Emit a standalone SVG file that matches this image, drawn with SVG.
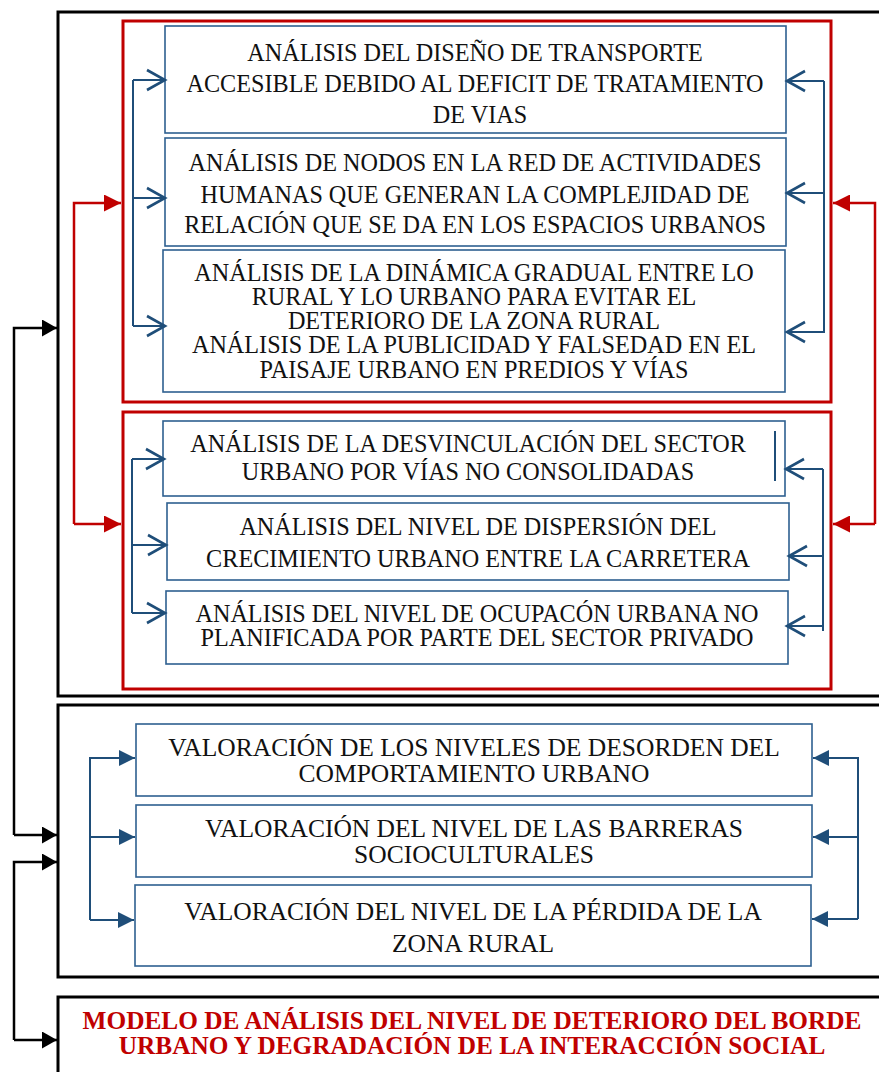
<svg xmlns="http://www.w3.org/2000/svg" width="879" height="1072" viewBox="0 0 879 1072">
<style>
.frame{fill:none;stroke:#000;stroke-width:3}
.red{fill:none;stroke:#c00000;stroke-width:3}
.box{fill:#fff;stroke:#2e6090;stroke-width:1.6}
.t{font-family:"Liberation Serif","Times New Roman",serif;font-size:24.2px;fill:#111;text-anchor:middle}
.tv{font-family:"Liberation Serif","Times New Roman",serif;font-size:25.5px;fill:#111;text-anchor:middle}
.rt{font-family:"Liberation Serif","Times New Roman",serif;font-size:25.3px;font-weight:bold;fill:#c00000;text-anchor:middle}
.cb{fill:none;stroke:#1f4e79;stroke-width:2}
.cr{fill:none;stroke:#c00000;stroke-width:2.5}
.ck{fill:none;stroke:#000;stroke-width:2.5}
</style>
<defs>
<marker id="chev" markerUnits="userSpaceOnUse" markerWidth="24" markerHeight="26" viewBox="0 0 24 26" refX="21" refY="13" orient="auto">
<path d="M3,3 L21,13 L3,23" fill="none" stroke="#1f4e79" stroke-width="2.6"/>
</marker>
<marker id="tb" markerUnits="userSpaceOnUse" markerWidth="16" markerHeight="16" viewBox="0 0 16 16" refX="16" refY="8" orient="auto">
<path d="M0,0 L16,8 L0,16 z" fill="#1f4e79"/>
</marker>
<marker id="tr" markerUnits="userSpaceOnUse" markerWidth="17" markerHeight="17" viewBox="0 0 17 17" refX="17" refY="8.5" orient="auto">
<path d="M0,0 L17,8.5 L0,17 z" fill="#c00000"/>
</marker>
<marker id="tk" markerUnits="userSpaceOnUse" markerWidth="15" markerHeight="17" viewBox="0 0 15 17" refX="15" refY="8.5" orient="auto">
<path d="M0,0 L15,8.5 L0,17 z" fill="#000"/>
</marker>
</defs>
<rect width="879" height="1072" fill="#fff"/>

<g id="frame-analisis"><rect class="frame" x="58" y="12" width="840" height="684"/></g>
<g id="group-red-1"><rect class="red" x="123" y="21" width="708" height="381"/></g>
<g id="group-red-2"><rect class="red" x="123" y="412" width="708" height="277"/></g>
<g id="frame-valoracion"><rect class="frame" x="58" y="705" width="840" height="272"/></g>
<g id="frame-modelo"><rect class="frame" x="58" y="997" width="840" height="100"/>
<text class="rt" x="472" y="1029">MODELO DE ANÁLISIS DEL NIVEL DE DETERIORO DEL BORDE</text>
<text class="rt" x="472" y="1054">URBANO Y DEGRADACIÓN DE LA INTERACCIÓN SOCIAL</text>
</g>

<g id="n1"><rect class="box" x="165" y="26" width="621" height="107"/>
<text class="t" x="475" y="61">ANÁLISIS DEL DISEÑO DE TRANSPORTE</text>
<text class="t" x="475" y="92">ACCESIBLE DEBIDO AL DEFICIT DE TRATAMIENTO</text>
<text class="t" x="480" y="123">DE VIAS</text></g>
<g id="n2"><rect class="box" x="165" y="138" width="621" height="108"/>
<text class="t" x="475" y="171">ANÁLISIS DE NODOS EN LA RED DE ACTIVIDADES</text>
<text class="t" x="475" y="203">HUMANAS QUE GENERAN LA COMPLEJIDAD DE</text>
<text class="t" x="475" y="233">RELACIÓN QUE SE DA EN LOS ESPACIOS URBANOS</text></g>
<g id="n3"><rect class="box" x="163" y="250" width="622" height="142"/>
<text class="t" x="474" y="281">ANÁLISIS DE LA DINÁMICA GRADUAL ENTRE LO</text>
<text class="t" x="474" y="305">RURAL Y LO URBANO PARA EVITAR EL</text>
<text class="t" x="474" y="329">DETERIORO DE LA ZONA RURAL</text>
<text class="t" x="474" y="353">ANÁLISIS DE LA PUBLICIDAD Y FALSEDAD EN EL</text>
<text class="t" x="474" y="378">PAISAJE URBANO EN PREDIOS Y VÍAS</text></g>
<g id="n4"><rect class="box" x="163" y="421" width="622" height="75"/>
<text class="t" x="468" y="452">ANÁLISIS DE LA DESVINCULACIÓN DEL SECTOR</text>
<text class="t" x="468" y="480">URBANO POR VÍAS NO CONSOLIDADAS</text>
<line x1="775" y1="431" x2="775" y2="481" stroke="#1f4e79" stroke-width="2"/></g>
<g id="n5"><rect class="box" x="167" y="503" width="622" height="77"/>
<text class="t" x="478" y="535">ANÁLISIS DEL NIVEL DE DISPERSIÓN DEL</text>
<text class="t" x="478" y="567">CRECIMIENTO URBANO ENTRE LA CARRETERA</text></g>
<g id="n6"><rect class="box" x="166" y="591" width="622" height="73"/>
<text class="t" x="477" y="622">ANÁLISIS DEL NIVEL DE OCUPACÓN URBANA NO</text>
<text class="t" x="477" y="646">PLANIFICADA POR PARTE DEL SECTOR PRIVADO</text></g>
<g id="n7"><rect class="box" x="136" y="724" width="676" height="72"/>
<text class="tv" x="474" y="756">VALORACIÓN DE LOS NIVELES DE DESORDEN DEL</text>
<text class="tv" x="474" y="782">COMPORTAMIENTO URBANO</text></g>
<g id="n8"><rect class="box" x="136" y="805" width="676" height="72"/>
<text class="tv" x="474" y="837">VALORACIÓN DEL NIVEL DE LAS BARRERAS</text>
<text class="tv" x="474" y="863">SOCIOCULTURALES</text></g>
<g id="n9"><rect class="box" x="135" y="885" width="676" height="81"/>
<text class="tv" x="473" y="920">VALORACIÓN DEL NIVEL DE LA PÉRDIDA DE LA</text>
<text class="tv" x="473" y="952">ZONA RURAL</text></g>

<g id="connectors">
<path class="cb" d="M133,80 V326"/>
<path class="cb" d="M133,80 H165" marker-end="url(#chev)"/>
<path class="cb" d="M133,198 H165" marker-end="url(#chev)"/>
<path class="cb" d="M133,326 H165" marker-end="url(#chev)"/>
<path class="cb" d="M824,81 V333"/>
<path class="cb" d="M824,81 H787" marker-end="url(#chev)"/>
<path class="cb" d="M824,193 H787" marker-end="url(#chev)"/>
<path class="cb" d="M824,332 H787" marker-end="url(#chev)"/>

<path class="cb" d="M132,459 V613"/>
<path class="cb" d="M132,459 H164" marker-end="url(#chev)"/>
<path class="cb" d="M132,545 H166" marker-end="url(#chev)"/>
<path class="cb" d="M132,613 H165" marker-end="url(#chev)"/>
<path class="cb" d="M823,469 V631"/>
<path class="cb" d="M823,469 H786" marker-end="url(#chev)"/>
<path class="cb" d="M823,556 H789" marker-end="url(#chev)"/>
<path class="cb" d="M823,626 H787" marker-end="url(#chev)"/>

<path class="cr" d="M74,524 V203 H121" marker-end="url(#tr)"/>
<path class="cr" d="M74,524 H121" marker-end="url(#tr)"/>
<path class="cr" d="M875,524 V203 H833" marker-end="url(#tr)"/>
<path class="cr" d="M875,524 H833" marker-end="url(#tr)"/>

<path class="ck" d="M14,835 V328 H57" marker-end="url(#tk)"/>
<path class="ck" d="M14,835 H57" marker-end="url(#tk)"/>
<path class="ck" d="M14,1040 V862 H57" marker-end="url(#tk)"/>
<path class="ck" d="M14,1040 H57" marker-end="url(#tk)"/>

<path class="cb" d="M90,920 V758 H135" marker-end="url(#tb)"/>
<path class="cb" d="M90,837 H135" marker-end="url(#tb)"/>
<path class="cb" d="M90,920 H134" marker-end="url(#tb)"/>
<path class="cb" d="M858,919 V758 H813" marker-end="url(#tb)"/>
<path class="cb" d="M858,837 H813" marker-end="url(#tb)"/>
<path class="cb" d="M858,919 H812" marker-end="url(#tb)"/>
</g>
</svg>
